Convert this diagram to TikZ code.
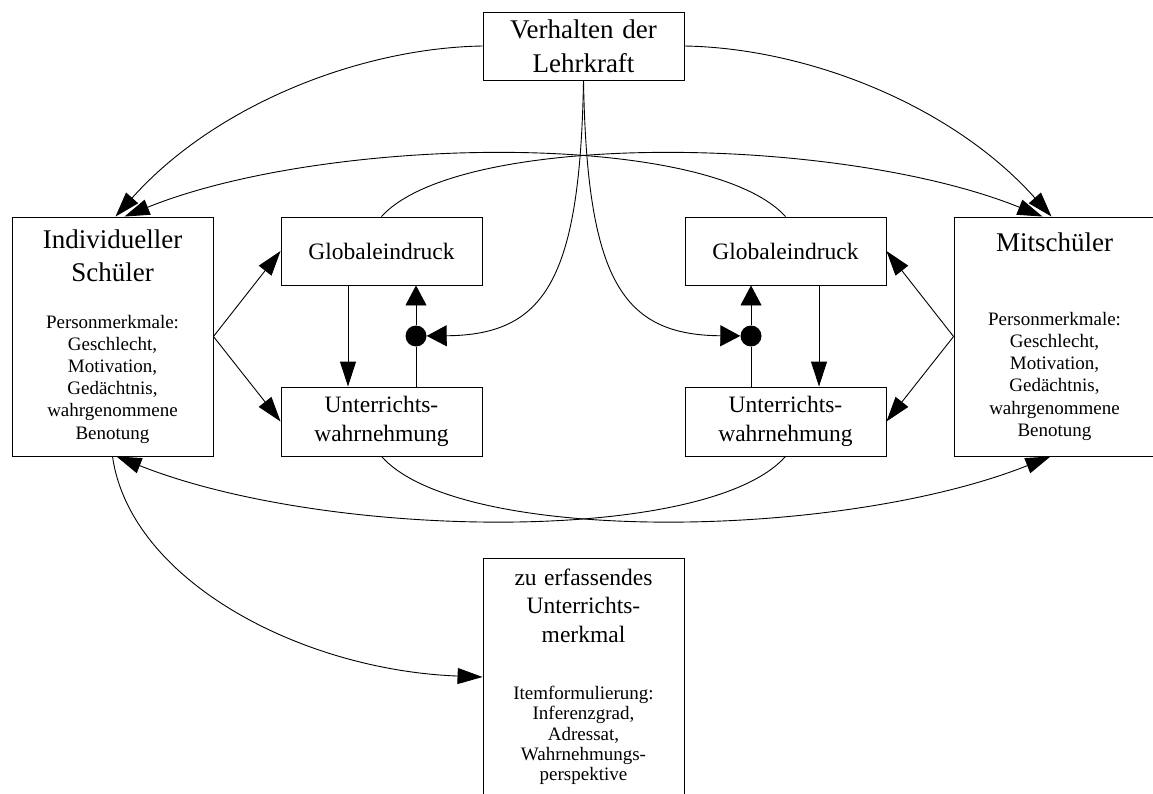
\documentclass[tikz,border=0pt]{standalone}
\usepackage{fontspec}
\setmainfont{Liberation Serif}
\usetikzlibrary{arrows.meta,calc}
% font sizes used in the boxes
\newcommand\titlefnt{\fontsize{27pt}{32.7pt}\selectfont\spaceskip=0.32em}
\newcommand\midfnt{\fontsize{23.5pt}{28.4pt}\selectfont\spaceskip=0.32em}
\newcommand\smallfnt{\fontsize{19pt}{22.2pt}\selectfont}
\newcommand\itemfnt{\fontsize{19pt}{20.4pt}\selectfont}
\begin{document}
\begin{tikzpicture}[x=1pt,y=-1pt,
  box/.style={draw, line width=0.9pt, inner sep=0pt, minimum width=201pt,
              text width=196pt, align=center},
  conn/.style={line width=0.9pt},
  tip/.style={conn, -{Triangle[length=25pt,width=16pt]}},
  wtip/.style={conn, -{Triangle[length=20pt,width=21pt]}},
  dot/.style={circle, fill, inner sep=0pt, minimum size=21pt}]
\useasboundingbox (0,0) rectangle (1153,794);
\clip (0,0) rectangle (1153,794);

% boxes
\node[box, minimum height=68pt] (teach) at (583.5,46)
  {{\fontsize{27pt}{34pt}\selectfont\spaceskip=0.32em Verhalten der\\Lehrkraft\par}};
\node[box, minimum height=239pt] (stud) at (112.5,336.5)
  {{\titlefnt Individueller\\Schüler\par}\vspace{24.8pt}%
   {\smallfnt Personmerkmale:\\Geschlecht,\\Motivation,\\Gedächtnis,\\wahrgenommene\\Benotung\par}};
\node[box, minimum height=239pt] (mit) at (1054.5,336.5)
  {{\titlefnt Mitschüler\par}\vspace{51.8pt}%
   {\smallfnt Personmerkmale:\\Geschlecht,\\Motivation,\\Gedächtnis,\\wahrgenommene\\Benotung\par}};
\node[box, minimum height=68pt] (glL) at (381.5,251) {{\midfnt Globaleindruck\par}};
\node[box, minimum height=69pt] (unL) at (381.5,421.5) {{\midfnt Unterrichts-\\wahrnehmung\par}};
\node[box, minimum height=68pt] (glR) at (785.5,251) {{\midfnt Globaleindruck\par}};
\node[box, minimum height=69pt] (unR) at (785.5,421.5) {{\midfnt Unterrichts-\\wahrnehmung\par}};
\node[box, minimum height=238pt] (item) at (583.5,677)
  {{\midfnt zu erfassendes\\Unterrichts-\\merkmal\par}\vspace{36.6pt}%
   {\itemfnt Itemformulierung:\\Inferenzgrad,\\Adressat,\\Wahrnehmungs-\\perspektive\par}};

% junction dots
\node[dot] (dL) at (416,336) {};
\node[dot] (dR) at (751,336) {};

% left pair: student -> boxes, inner loop
\draw[tip] (stud.east) -- (glL.west);
\draw[tip] (stud.east) -- (unL.west);
\draw[tip] ([xshift=-33.5pt]glL.south) -- ([xshift=-33.5pt]unL.north);
\draw[conn] (dL |- unL.north) -- (dL);
\draw[wtip] (dL) -- (dL |- glL.south);

% right pair: classmates -> boxes, inner loop
\draw[tip] (mit.west) -- (glR.west -| glR.east);
\draw[tip] (mit.west) -- (unR.west -| unR.east);
\draw[tip] ([xshift=33.5pt]glR.south) -- ([xshift=33.5pt]unR.north);
\draw[conn] (dR |- unR.north) -- (dR);
\draw[wtip] (dR) -- (dR |- glR.south);

% teacher behaviour
\draw[tip] (teach.west) .. controls (360,48) and (215,105) .. ([xshift=3pt]stud.north);
\draw[tip] (teach.east) .. controls (807,48) and (952,105) .. ([xshift=-3pt]mit.north);
\draw[wtip] (teach.south) .. controls (580,280) and (545,335) .. (dL);
\draw[wtip] (teach.south) .. controls (587,280) and (622,335) .. (dR);

% crossing links above
\draw[tip] (glL.north) .. controls (460,130) and (840,135) .. ([xshift=-12pt]mit.north);
\draw[tip] (glR.north) .. controls (707,130) and (327,135) .. ([xshift=12pt]stud.north);

% crossing links below
\draw[tip] (unL.south) .. controls (460,545) and (840,540) .. ([xshift=-4pt]mit.south);
\draw[tip] (unR.south) .. controls (707,545) and (327,540) .. ([xshift=4pt]stud.south);

% student -> item box
\draw[tip] (stud.south) .. controls (130,580) and (300,670) .. (item.west);
\end{tikzpicture}
\end{document}
